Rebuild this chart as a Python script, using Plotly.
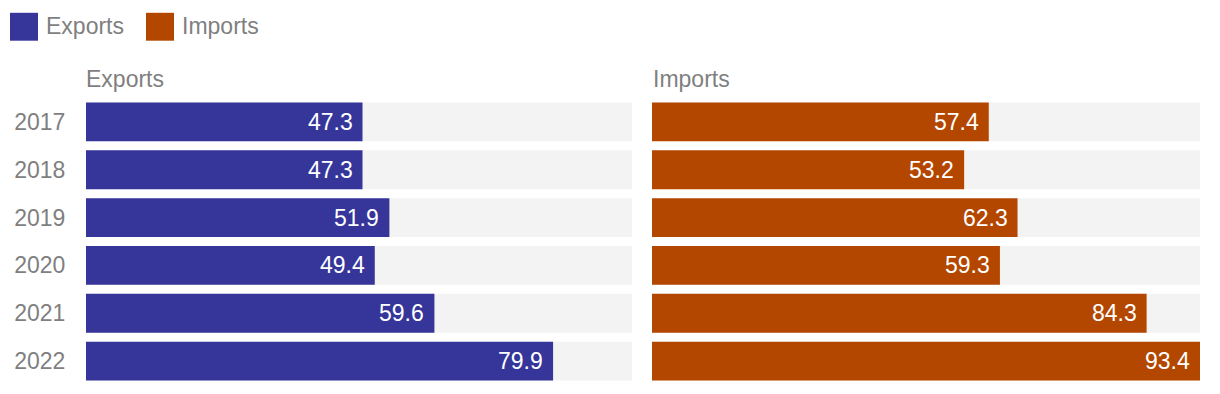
import plotly.graph_objects as go

years = ["2017", "2018", "2019", "2020", "2021", "2022"]
exports = [47.3, 47.3, 51.9, 49.4, 59.6, 79.9]
imports = [57.4, 53.2, 62.3, 59.3, 84.3, 93.4]
series_names = ["Exports", "Imports"]
colors = ["#35359a", "#b34700"]
track_color = "#f3f3f3"
text_gray = "#7f7f7f"
FONT = "Liberation Sans, Arial, Helvetica, sans-serif"
FS = 23

vmax = max(max(exports), max(imports))

# page has an 8px body margin; size figure so it fits the 1220x394 window
OFF = 8
W, H = 1220 - 2 * OFF, 394 - 2 * OFF
T, B = 89.5, 0.5
PH = H - T - B


def px(X):  # page x -> paper x
    return (X - OFF) / W


def py(Y):  # page y -> paper y
    return 1 - (Y - OFF - T) / PH


fig = go.Figure()
xrefs = ["x", "x2"]
for i, (name, vals) in enumerate(zip(series_names, [exports, imports])):
    xa = xrefs[i]
    fig.add_trace(go.Bar(y=years, x=[vmax] * len(years), orientation="h",
                         marker=dict(color=track_color, line=dict(width=0)),
                         xaxis=xa, yaxis="y", showlegend=False, hoverinfo="skip"))
    fig.add_trace(go.Bar(y=years, x=vals, orientation="h", name=name,
                         marker=dict(color=colors[i], line=dict(width=0)),
                         xaxis=xa, yaxis="y", showlegend=False))
    for k, v in enumerate(vals):
        # category index k on the category y axis
        fig.add_annotation(x=v, y=k, xref=xa, yref="y", text=f"{v:.1f}",
                           showarrow=False, xanchor="right", yanchor="middle",
                           xshift=-8,
                           font=dict(family=FONT, size=FS, color="white"))

dom1 = [px(86), px(632)]
dom2 = [px(652), px(1200)]

# panel titles
for name, X in zip(series_names, [86, 653]):
    fig.add_annotation(x=px(X), y=py(78), xref="paper", yref="paper", text=name,
                       showarrow=False, xanchor="left", yanchor="middle", xshift=-2,
                       font=dict(family=FONT, size=FS, color=text_gray))

# manual legend
leg_x = [10, 146]
for name, c, lx in zip(series_names, colors, leg_x):
    fig.add_shape(type="rect", xref="paper", yref="paper",
                  x0=px(lx), x1=px(lx + 28), y0=py(40), y1=py(12),
                  fillcolor=c, line=dict(width=0))
    fig.add_annotation(x=px(lx + 34), y=py(25), xref="paper", yref="paper",
                       text=name, showarrow=False, xanchor="left", yanchor="middle",
                       font=dict(family=FONT, size=FS, color=text_gray))

fig.update_layout(
    width=W, height=H, autosize=False,
    margin=dict(l=0, r=0, t=T, b=B, pad=0),
    paper_bgcolor="white", plot_bgcolor="white",
    barmode="overlay", bargap=9 / 48,
    showlegend=False,
    font=dict(family=FONT, size=FS, color=text_gray),
    xaxis=dict(domain=dom1, range=[0, vmax], showgrid=False, zeroline=False,
               showticklabels=False, showline=False),
    xaxis2=dict(domain=dom2, range=[0, vmax], showgrid=False, zeroline=False,
                showticklabels=False, showline=False, anchor="y"),
    yaxis=dict(type="category", categoryorder="array", categoryarray=years,
               range=[len(years) - 0.5, -0.5], showgrid=False, zeroline=False,
               showline=False, ticks="outside", ticklen=15, tickcolor="rgba(0,0,0,0)",
               tickfont=dict(family=FONT, size=FS, color=text_gray), anchor="x"),
)

fig.write_html("out.html")
